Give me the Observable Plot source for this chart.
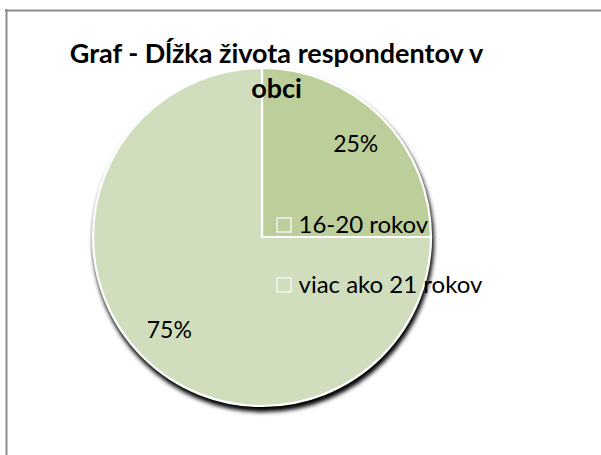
<!DOCTYPE html>
<html>
<head>
<meta charset="utf-8">
<script src="https://cdn.jsdelivr.net/npm/d3@7"></script>
<script src="https://cdn.jsdelivr.net/npm/@observablehq/plot@0.6"></script>
<style>
  html, body { margin: 0; padding: 0; background: #fff; overflow: hidden; }
  svg { display: block; }
</style>
</head>
<body>
<div id="chart"></div>
<script>
// ---- data ----
const categories = ["16-20 rokov", "viac ako 21 rokov"];
const shares = [25, 75];
const percentLabels = ["25%", "75%"];
const sliceColors = ["#BCCF9A", "#D1DEBE"];
const titleLines = ["Graf - Dĺžka života respondentov v", "obci"];

const W = 601, H = 455;
const cx = 262, cy = 237, R = 169;
const FONT = "Lato, 'Open Sans', 'Noto Sans', sans-serif";

const slices = categories.map((c, i) => ({category: c, value: shares[i], label: percentLabels[i], color: sliceColors[i]}));
const pie = d3.pie().sort(null).value(d => d.value)(slices);
const labelArc = d3.arc().innerRadius(R * 0.78).outerRadius(R * 0.78);
const labels = pie.map(p => {
  const [dx, dy] = labelArc.centroid(p);
  return {x: cx + dx, y: cy + dy, text: p.data.label};
});

// pie mark drawn through d3.pie/d3.arc inside Plot
function pieMark(index, scales) {
  const g = d3.create("svg:g");
  const defs = g.append("defs");
  const f = defs.append("filter").attr("id", "pieshadow")
    .attr("filterUnits", "userSpaceOnUse")
    .attr("x", 0).attr("y", 0).attr("width", W).attr("height", H);
  f.append("feGaussianBlur").attr("stdDeviation", 2.2);
  const px = scales.x(cx), py = scales.y(cy);
  g.append("circle")
    .attr("cx", px + 1.5).attr("cy", py + 4.5).attr("r", R + 1.5)
    .attr("fill", "#000").attr("fill-opacity", 1)
    .attr("filter", "url(#pieshadow)");
  const arc = d3.arc().innerRadius(0).outerRadius(R);
  g.append("g").attr("transform", `translate(${px},${py})`)
    .selectAll("path").data(pie).join("path")
    .attr("d", arc)
    .attr("fill", d => d.data.color)
    .attr("stroke", "#fff")
    .attr("stroke-width", 2.2)
    .attr("stroke-linejoin", "miter");
  return g.node();
}

// legend layout
const legend = categories.map((c, i) => ({
  name: c,
  color: sliceColors[i],
  x1: cx + 15, x2: cx + 29,
  y1: cy - 19 + i * 60, y2: cy - 5 + i * 60,
  tx: cx + 36, ty: cy - 5 + i * 60
}));

const chart = Plot.plot({
  width: W, height: H, margin: 0,
  x: {domain: [0, W], range: [0, W], axis: null},
  y: {domain: [0, H], range: [0, H], axis: null},
  style: {fontFamily: FONT, background: "#fff", overflow: "hidden"},
  marks: [
    Plot.ruleY([10], {x1: 5, x2: W + 5, stroke: "#8c8c8c", strokeWidth: 2}),
    Plot.ruleX([6], {y1: 9, y2: H + 5, stroke: "#8c8c8c", strokeWidth: 2}),
    pieMark,
    Plot.text(labels, {x: "x", y: "y", text: "text", fontSize: 23, fill: "#000", lineAnchor: "middle", textAnchor: "middle", fontFamily: FONT}),
    Plot.rect(legend, {x1: "x1", x2: "x2", y1: "y1", y2: "y2", fill: "color", stroke: "#f4f4f4", strokeWidth: 1.5}),
    Plot.text(legend, {x: "tx", y: "ty", text: "name", fontSize: 24, fill: "#000", lineAnchor: "bottom", textAnchor: "start", fontFamily: FONT}),
    Plot.text(titleLines, {x: 276, y: (d, i) => 62 + i * 35, text: d => d, fontSize: 27, fontWeight: "bold", fill: "#000", lineAnchor: "bottom", textAnchor: "middle", fontFamily: FONT})
  ]
});
document.getElementById("chart").appendChild(chart);
</script>
</body>
</html>
